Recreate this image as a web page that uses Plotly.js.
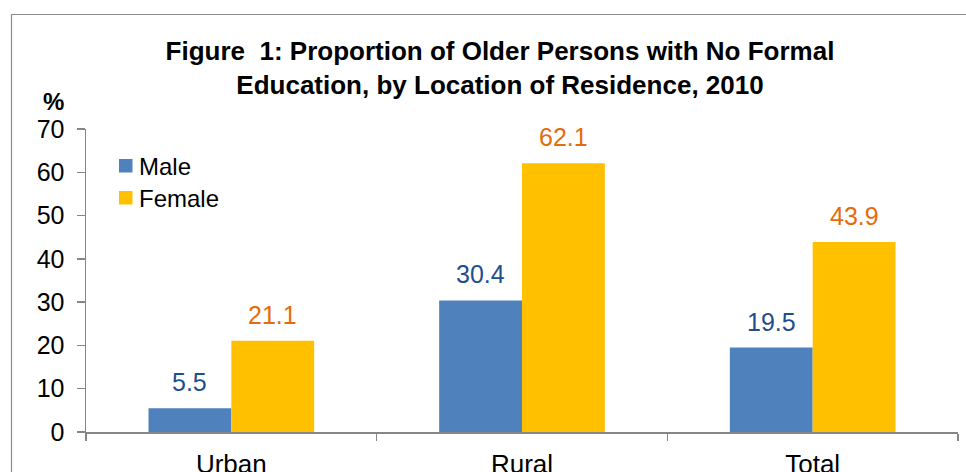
<!DOCTYPE html>
<html>
<head>
<meta charset="utf-8">
<script src="https://cdn.plot.ly/plotly-3.0.1.min.js"></script>
<style>
  html, body { margin: 0; padding: 0; background: #fff; }
  #chart { width: 966px; height: 472px; }
</style>
</head>
<body>
<div id="chart"></div>
<script>
// Proportion of older persons with no formal education, 2010 (%)
const locations = ['Urban', 'Rural', 'Total'];
const maleValues = [5.5, 30.4, 19.5];
const femaleValues = [21.1, 62.1, 43.9];
const seriesNames = ['Male', 'Female'];
const yTicks = [0, 10, 20, 30, 40, 50, 60, 70];

const FONT = 'Liberation Sans, Arial, sans-serif';
const MALE_COLOR = '#4F81BD';
const FEMALE_COLOR = '#FFC000';
const MALE_LABEL = '#1F4E8C';
const FEMALE_LABEL = '#E46C0A';
const AXIS_GREY = '#868686';
const seriesColors = [MALE_COLOR, FEMALE_COLOR];

const W = 966, H = 472;
const margin = { l: 86, r: 8, t: 129, b: 40 };
const plotW = W - margin.l - margin.r;
const plotH = H - margin.t - margin.b;
// pixel -> paper coordinates for frame and key placement
const px = x => (x - margin.l) / plotW;
const py = y => (H - margin.b - y) / plotH;

const BARGAP = 0.43;
const barW = (1 - BARGAP) / 2;

const traces = [
  { type: 'bar', name: seriesNames[0], x: locations, y: maleValues,
    marker: { color: MALE_COLOR }, hoverinfo: 'x+y' },
  { type: 'bar', name: seriesNames[1], x: locations, y: femaleValues,
    marker: { color: FEMALE_COLOR }, hoverinfo: 'x+y' }
];

// value labels above each bar
const annotations = [];
maleValues.forEach((v, i) => annotations.push({
  x: i - barW / 2, y: v, xref: 'x', yref: 'y', text: v.toFixed(1),
  showarrow: false, yanchor: 'middle', yshift: 26,
  font: { family: FONT, size: 25, color: MALE_LABEL }
}));
femaleValues.forEach((v, i) => annotations.push({
  x: i + barW / 2, y: v, xref: 'x', yref: 'y', text: v.toFixed(1),
  showarrow: false, yanchor: 'middle', yshift: 26,
  font: { family: FONT, size: 25, color: FEMALE_LABEL }
}));
annotations.push({
  xref: 'paper', yref: 'paper', x: px(53), y: py(101), text: '<b>%</b>',
  showarrow: false, xanchor: 'center', yanchor: 'middle',
  font: { family: FONT, size: 24, color: '#000' }
});

// compact key: coloured squares with series names
const shapes = [];
const keyTop = [159, 191];
seriesNames.forEach((name, k) => {
  shapes.push({
    type: 'rect', xref: 'paper', yref: 'paper',
    x0: px(119), x1: px(132.5), y0: py(keyTop[k]), y1: py(keyTop[k] + 13.5),
    fillcolor: seriesColors[k], line: { width: 0 }
  });
  annotations.push({
    xref: 'paper', yref: 'paper', x: px(137), y: py(keyTop[k] + 7),
    text: name, showarrow: false, xanchor: 'left', yanchor: 'middle',
    font: { family: FONT, size: 24, color: '#000' }
  });
});

// chart frame (top and left edges)
shapes.push(
  { type: 'line', xref: 'paper', yref: 'paper', x0: px(11), x1: px(970), y0: py(14.5), y1: py(14.5),
    line: { color: '#8C8C8C', width: 1.2 } },
  { type: 'line', xref: 'paper', yref: 'paper', x0: px(11.5), x1: px(11.5), y0: py(14), y1: py(476),
    line: { color: '#8C8C8C', width: 1.2 } }
);

const layout = {
  width: W, height: H,
  margin: margin,
  paper_bgcolor: '#fff', plot_bgcolor: '#fff',
  font: { family: FONT, color: '#000' },
  title: {
    text: '<b>Figure&nbsp; 1: Proportion of Older Persons with No Formal<br>Education, by Location of Residence, 2010</b>',
    font: { family: FONT, size: 26, color: '#000' },
    xref: 'container', yref: 'container',
    x: 500 / W, xanchor: 'center',
    y: 1 - 60 / H, yanchor: 'top'
  },
  barmode: 'group',
  bargap: BARGAP,
  bargroupgap: 0,
  showlegend: false,
  xaxis: {
    type: 'category',
    showline: true, linecolor: AXIS_GREY, linewidth: 1.5,
    ticks: 'outside', tickson: 'boundaries', ticklen: 7,
    tickcolor: AXIS_GREY, tickwidth: 1.5,
    ticklabelstandoff: 8,
    tickfont: { family: FONT, size: 26, color: '#000' },
    showgrid: false, zeroline: false
  },
  yaxis: {
    range: [0, 70],
    tickvals: yTicks,
    showline: true, linecolor: AXIS_GREY, linewidth: 1.5,
    ticks: 'outside', ticklen: 8, tickcolor: AXIS_GREY, tickwidth: 1.5,
    ticklabelstandoff: 7,
    tickfont: { family: FONT, size: 25, color: '#000' },
    showgrid: false, zeroline: false
  },
  annotations: annotations,
  shapes: shapes
};

Plotly.newPlot('chart', traces, layout, { displayModeBar: false, staticPlot: true });
</script>
</body>
</html>
